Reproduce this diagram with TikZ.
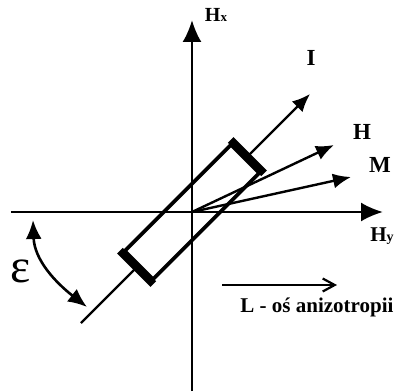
\documentclass[tikz,border=0pt]{standalone}
\usepackage{fontspec}
\setmainfont{Liberation Serif}
\usepackage{tikz}
\usetikzlibrary{arrows.meta}

\begin{document}
\begin{tikzpicture}[
  x=1pt,y=1pt,
  >=Latex,
  axis/.style={line width=2.4pt,-{Latex[length=22pt,width=19pt]}},
  vec/.style={line width=2.4pt,-{Latex[length=18pt,width=15pt]}},
  lab/.style={font=\fontsize{23}{23}\selectfont\bfseries,inner sep=0pt},
  bar/.style={draw,line width=3.6pt,rotate=45,minimum width=150pt,
              minimum height=40pt,inner sep=0pt}
]
 \useasboundingbox (-192,-179) rectangle (207,212);
 \coordinate (o) at (0,0);
 \coordinate (xbot) at (0,-179);
 \coordinate (xtop) at (0,192);
 \coordinate (yleft) at (-181,0);
 \coordinate (yright) at (191,0);
 \draw[axis] (xbot) -- (xtop);
 \draw[axis] (yleft) -- (yright);
 \node[lab,font=\fontsize{20}{20}\selectfont\bfseries] (hxlab) at (24,197)
       {H{\fontsize{13}{13}\selectfont x}};
 \node[lab,font=\fontsize{21}{21}\selectfont\bfseries] (hylab) at (190,-24)
       {H{\fontsize{14}{14}\selectfont y}};

 \node[bar] (box) at (o) {};
 \draw[line width=8pt,shorten <=-1.8pt,shorten >=-1.8pt]
   ([shift={(45:1.5)}]box.north east) -- ([shift={(45:1.5)}]box.south east);
 \draw[line width=8pt,shorten <=-1.8pt,shorten >=-1.8pt]
   ([shift={(225:1.5)}]box.north west) -- ([shift={(225:1.5)}]box.south west);
 \coordinate (lend) at (225:157);
 \coordinate (itip) at (45:167);
 \draw[line width=2.4pt] (lend) -- (box.west);
 \draw[vec] (box.east) -- (itip);
 \coordinate (htip) at (142,67);
 \coordinate (mtip) at (159,35);
 \draw[vec] (o) -- (htip);
 \draw[vec] (o) -- (mtip);
 \node[lab] (ilab) at (119,154) {I};
 \node[lab] (hlab) at (170,80) {H};
 \node[lab] (mlab) at (188,47) {M};

 \coordinate (e1) at (-159,-8);
 \coordinate (e2) at (-105,-95);
 \draw[line width=2.6pt,{Latex[length=19pt,width=16pt]}-{Latex[length=19pt,width=16pt]}]
   (e1) to[out=-88,in=142] (e2);
 \node[inner sep=0pt,font=\fontsize{48}{48}\selectfont] (epslab) at (-171,-59) {ε};

 \coordinate (la) at (30,-73);
 \coordinate (lb) at (145,-73);
 \draw[line width=2.2pt,-{Straight Barb[length=12pt,width=13pt]}] (la) -- (lb);
 \node[lab,font=\fontsize{21}{21}\selectfont\bfseries,anchor=base] (llab) at (125,-100)
       {L - oś anizotropii};
\end{tikzpicture}
\end{document}
